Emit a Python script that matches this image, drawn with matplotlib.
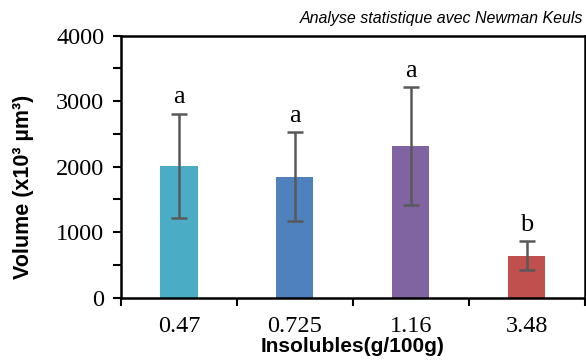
import matplotlib
matplotlib.use("Agg")
import matplotlib.pyplot as plt
from matplotlib.ticker import MultipleLocator, FixedLocator

# data
categories = ["0.47", "0.725", "1.16", "3.48"]
volumes = [2010, 1850, 2320, 640]
errors = [800, 680, 900, 220]
letters = ["a", "a", "a", "b"]
colors = ["#4BACC6", "#4F81BD", "#8064A2", "#C0504D"]

fig = plt.figure(figsize=(5.86, 3.6), dpi=100)
ax = fig.add_axes([0.2065, 0.173, 0.7915, 0.728])

x = range(len(categories))
ax.bar(x, volumes, width=0.32, color=colors, zorder=2)
ax.errorbar(x, volumes, yerr=errors, fmt="none", ecolor="#595959",
            elinewidth=1.8, capsize=5.5, capthick=1.8, zorder=3)

for i, (v, e, l) in enumerate(zip(volumes, errors, letters)):
    ax.text(i, v + e + 80, l, ha="center", va="bottom",
            family="Liberation Serif", fontsize=19)

ax.set_xlim(-0.5, len(categories) - 0.5)
ax.set_ylim(0, 4000)
ax.yaxis.set_major_locator(MultipleLocator(1000))
ax.yaxis.set_minor_locator(MultipleLocator(500))
ax.set_xticks(list(x))
ax.set_xticklabels(categories, family="Liberation Serif", fontsize=17.5)
ax.xaxis.set_minor_locator(FixedLocator([-0.5, 0.5, 1.5, 2.5, 3.5]))
ax.tick_params(axis="x", which="major", length=0, pad=13)
ax.tick_params(axis="x", which="minor", length=6, width=1.5, direction="out")
ax.tick_params(axis="y", which="both", length=6, width=1.5, direction="out", pad=6)
for lab in ax.get_yticklabels():
    lab.set_family("Liberation Serif")
    lab.set_fontsize(17.5)

for s in ax.spines.values():
    s.set_linewidth(1.8)
    s.set_color("black")

ax.set_xlabel("Insolubles(g/100g)", family="Liberation Sans", fontweight="bold",
              fontsize=15, labelpad=0)
ax.set_ylabel("Volume (x10³ µm³)", family="Liberation Sans", fontweight="bold",
              fontsize=15.5)
ax.yaxis.set_label_coords(-0.188, 0.424)

fig.text(0.995, 0.948, "Analyse statistique avec Newman Keuls", ha="right",
         va="center", style="italic", family="Liberation Sans", fontsize=11.5)

fig.savefig("out.png", dpi=100)
